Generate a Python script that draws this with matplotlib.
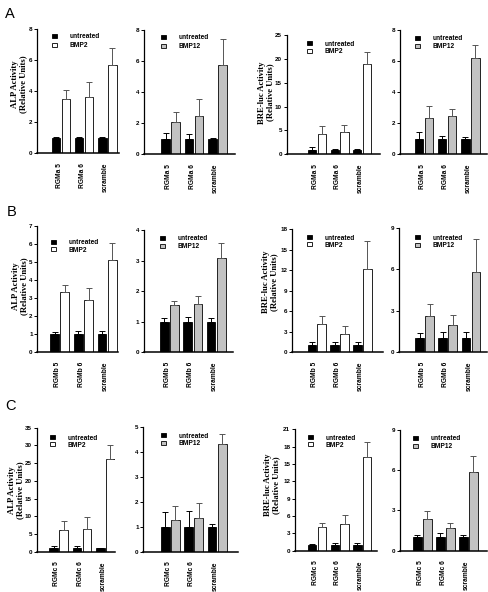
import matplotlib.pyplot as plt

# group labels per row
labels_a = ["RGMa 5", "RGMa 6", "scramble"]
labels_b = ["RGMb 5", "RGMb 6", "scramble"]
labels_c = ["RGMc 5", "RGMc 6", "scramble"]

# A: RGMa knockdown
a1_untreated = [1.0, 1.0, 1.0]
a1_untreated_err = [0.06, 0.06, 0.06]
a1_bmp = [3.5, 3.65, 5.7]
a1_bmp_err = [0.6, 0.95, 1.1]

a2_untreated = [1.0, 1.0, 1.0]
a2_untreated_err = [0.35, 0.3, 0.05]
a2_bmp = [2.05, 2.45, 5.75]
a2_bmp_err = [0.7, 1.1, 1.7]

a3_untreated = [1.0, 1.0, 1.0]
a3_untreated_err = [0.5, 0.2, 0.1]
a3_bmp = [4.3, 4.7, 18.9]
a3_bmp_err = [1.6, 1.4, 2.6]

a4_untreated = [1.0, 1.0, 1.0]
a4_untreated_err = [0.45, 0.2, 0.1]
a4_bmp = [2.35, 2.45, 6.2]
a4_bmp_err = [0.75, 0.45, 0.85]

# B: RGMb knockdown
b1_untreated = [1.0, 1.0, 1.0]
b1_untreated_err = [0.1, 0.15, 0.15]
b1_bmp = [3.3, 2.9, 5.1]
b1_bmp_err = [0.4, 0.65, 0.95]

b2_untreated = [1.0, 1.0, 1.0]
b2_untreated_err = [0.12, 0.15, 0.12]
b2_bmp = [1.55, 1.58, 3.1]
b2_bmp_err = [0.13, 0.27, 0.48]

b3_untreated = [1.0, 1.0, 1.0]
b3_untreated_err = [0.5, 0.5, 0.5]
b3_bmp = [4.1, 2.7, 12.2]
b3_bmp_err = [1.2, 1.1, 4.1]

b4_untreated = [1.0, 1.0, 1.0]
b4_untreated_err = [0.4, 0.45, 0.45]
b4_bmp = [2.6, 2.0, 5.8]
b4_bmp_err = [0.9, 0.7, 2.4]

# C: RGMc knockdown
c1_untreated = [1.0, 1.0, 1.0]
c1_untreated_err = [0.6, 0.6, 0.1]
c1_bmp = [6.0, 6.5, 26.3]
c1_bmp_err = [2.8, 3.2, 3.9]

c2_untreated = [1.0, 1.0, 1.0]
c2_untreated_err = [0.58, 0.63, 0.12]
c2_bmp = [1.27, 1.35, 4.32]
c2_bmp_err = [0.58, 0.6, 0.4]

c3_untreated = [1.0, 1.0, 1.0]
c3_untreated_err = [0.2, 0.4, 0.3]
c3_bmp = [4.1, 4.7, 16.2]
c3_bmp_err = [0.7, 1.4, 2.6]

c4_untreated = [1.0, 1.0, 1.0]
c4_untreated_err = [0.2, 0.35, 0.2]
c4_bmp = [2.4, 1.7, 5.85]
c4_bmp_err = [0.55, 0.35, 1.2]

alp_label = "ALP Activity\n(Relative Units)"
bre_label = "BRE-luc Activity\n(Relative Units)"

W, H = 488, 592
fig = plt.figure(figsize=(W / 100, H / 100), dpi=100)

SANS = "Liberation Sans"
SERIF = "Liberation Serif"


def px_rect(left, right, top, bottom):
    return [left / W, 1 - bottom / H, (right - left) / W, (bottom - top) / H]


def panel(box, xlim, ymax, ystep, labels, unt, unt_err, bmp, bmp_err,
          bmp_name, bmp_color, ylabel, leg_xy, leg_space):
    ax = fig.add_axes(px_rect(*box))
    x = range(len(labels))
    w = 0.37
    off = 0.215
    xu = [i - off for i in x]
    xb = [i + off for i in x]
    h1 = ax.bar(xu, unt, width=w, color="black", edgecolor="black", linewidth=0.6)
    h2 = ax.bar(xb, bmp, width=w, color=bmp_color, edgecolor="#222222", linewidth=0.7)
    ax.errorbar(xu, unt, yerr=[[0] * len(unt), unt_err], fmt="none",
                ecolor="black", elinewidth=0.7, capsize=2.3, capthick=0.7)
    ax.errorbar(xb, bmp, yerr=[[0] * len(bmp), bmp_err], fmt="none",
                ecolor="#555555", elinewidth=0.7, capsize=2.3, capthick=0.7)
    ax.set_xlim(*xlim)
    ax.set_ylim(0, ymax)
    ticks = [i * ystep for i in range(int(round(ymax / ystep)) + 1)]
    ax.set_yticks(ticks)
    ax.set_yticklabels([f"{t:g}" for t in ticks], fontsize=4.5,
                       fontweight="bold", family=SANS)
    ax.set_xticks([i - 0.08 for i in x])
    ax.set_xticklabels(labels, rotation=90, fontsize=4.8, fontweight="bold",
                       family=SANS, va="top", ha="center")
    ax.tick_params(axis="x", length=0, pad=7)
    ax.tick_params(axis="y", length=2.2, width=0.7, pad=1.2, direction="out")
    for s in ["top", "right"]:
        ax.spines[s].set_visible(False)
    ax.spines["left"].set_linewidth(0.9)
    ax.spines["bottom"].set_linewidth(1.1)
    if ylabel:
        text, off_px, yfrac = ylabel
        ax.set_ylabel(text, fontsize=6.2, fontweight="bold", family=SERIF,
                      linespacing=1.0)
        ax.yaxis.set_label_coords(off_px / (box[1] - box[0]), yfrac)
    ax.legend([h1, h2], ["untreated", bmp_name], loc="upper left",
              bbox_to_anchor=(leg_xy[0] / W, 1 - leg_xy[1] / H),
              bbox_transform=fig.transFigure, frameon=False,
              prop={"family": SANS, "weight": "bold", "size": 4.8},
              handlelength=0.75, handleheight=0.55, handletextpad=1.9,
              labelspacing=leg_space, borderpad=0, borderaxespad=0)
    return ax


WHITE = "white"
GRAY = "#c2c2c2"

# row A
panel((36.7, 119, 29.3, 153.3), (-1.04, 2.5), 8, 2, labels_a,
      a1_untreated, a1_untreated_err, a1_bmp, a1_bmp_err, "BMP2", WHITE,
      (alp_label, -9.5, 0.56), (51.7, 33), 0.35)
panel((144, 235, 30, 154.3), (-1.13, 2.74), 8, 2, labels_a,
      a2_untreated, a2_untreated_err, a2_bmp, a2_bmp_err, "BMP12", GRAY,
      None, (161, 34), 0.3)
panel((286.7, 380, 35, 154.3), (-1.35, 2.8), 25, 5, labels_a,
      a3_untreated, a3_untreated_err, a3_bmp, a3_bmp_err, "BMP2", WHITE,
      (bre_label, -13, 0.52), (307.3, 40.5), 0.1)
panel((400, 486.7, 30, 154.3), (-1.03, 2.71), 8, 2, labels_a,
      a4_untreated, a4_untreated_err, a4_bmp, a4_bmp_err, "BMP12", GRAY,
      None, (415, 35), 0.2)

# row B
panel((37.3, 118, 225.7, 351.7), (-0.95, 2.46), 7, 1, labels_b,
      b1_untreated, b1_untreated_err, b1_bmp, b1_bmp_err, "BMP2", WHITE,
      (alp_label, -9, 0.52), (51, 239.5), 0.05)
panel((144, 233, 230, 352.3), (-1.09, 2.72), 4, 1, labels_b,
      b2_untreated, b2_untreated_err, b2_bmp, b2_bmp_err, "BMP12", GRAY,
      None, (160, 235.5), 0.1)
panel((292.3, 383.3, 229.3, 352), (-1.07, 2.91), 18, 3, labels_b,
      b3_untreated, b3_untreated_err, b3_bmp, b3_bmp_err, "BMP2", WHITE,
      (bre_label, -14, 0.57), (307.3, 234.5), 0.05)
panel((399.3, 486.7, 227.7, 352.3), (-1.09, 2.68), 9, 3, labels_b,
      b4_untreated, b4_untreated_err, b4_bmp, b4_bmp_err, "BMP12", GRAY,
      None, (415, 234.5), 0.1)

# row C
panel((36.7, 115, 427.7, 551.7), (-0.95, 2.42), 35, 5, labels_c,
      c1_untreated, c1_untreated_err, c1_bmp, c1_bmp_err, "BMP2", WHITE,
      (alp_label, -13, 0.5), (49.5, 434.5), 0.05)
panel((143.3, 238.3, 427.3, 551.7), (-1.15, 2.9), 5, 1, labels_c,
      c2_untreated, c2_untreated_err, c2_bmp, c2_bmp_err, "BMP12", GRAY,
      None, (161, 432.5), 0.1)
panel((295, 376.7, 429.3, 550.7), (-0.98, 2.64), 21, 3, labels_c,
      c3_untreated, c3_untreated_err, c3_bmp, c3_bmp_err, "BMP2", WHITE,
      (bre_label, -15, 0.54), (308.3, 434.5), 0.05)
panel((400, 486.7, 430, 550.7), (-0.97, 2.8), 9, 3, labels_c,
      c4_untreated, c4_untreated_err, c4_bmp, c4_bmp_err, "BMP12", GRAY,
      None, (412.7, 435.5), 0.1)

# panel letters
for letter, (lx, ly) in zip("ABC", [(5, 18.5), (7, 215.5), (5, 410.5)]):
    fig.text(lx / W, 1 - ly / H, letter, fontsize=10.5, family=SANS,
             ha="left", va="baseline")

fig.savefig("out.png", dpi=100)
